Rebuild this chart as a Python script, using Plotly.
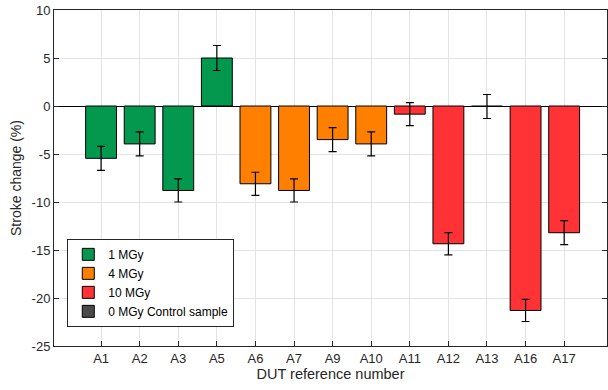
import plotly.graph_objects as go

categories = ["A1", "A2", "A3", "A5", "A6", "A7", "A9", "A10", "A11", "A12", "A13", "A16", "A17"]
groups = ["1 MGy", "1 MGy", "1 MGy", "1 MGy", "4 MGy", "4 MGy", "4 MGy", "4 MGy",
          "10 MGy", "10 MGy", "0 MGy Control sample", "10 MGy", "10 MGy"]
values = [-5.45, -3.95, -8.8, 5.0, -8.1, -8.8, -3.5, -3.95, -0.85, -14.35, -0.05, -21.3, -13.2]
errors = [1.25, 1.25, 1.2, 1.3, 1.2, 1.2, 1.25, 1.25, 1.2, 1.15, 1.25, 1.15, 1.25]
legend_order = ["1 MGy", "4 MGy", "10 MGy", "0 MGy Control sample"]
colors = {"1 MGy": "#03984e", "4 MGy": "#ff8000", "10 MGy": "#ff3336",
          "0 MGy Control sample": "#4a4a4a"}
ytick_vals = [10, 5, 0, -5, -10, -15, -20, -25]
ytick_text = ["10", "5", "0", "-5", "-10", "-15", "-20", "-25"]

fig = go.Figure()
for g in legend_order:
    xs = [c for c, gg in zip(categories, groups) if gg == g]
    ys = [v for v, gg in zip(values, groups) if gg == g]
    es = [e for e, gg in zip(errors, groups) if gg == g]
    fig.add_trace(go.Bar(
        x=xs, y=ys, name=g, width=0.8,
        marker=dict(color=colors[g], line=dict(color="black", width=1)),
        error_y=dict(type="data", array=es, visible=True, color="black",
                     thickness=1.2, width=4),
    ))

fig.update_layout(
    width=608, height=390,
    margin=dict(l=54, r=1, t=10, b=44),
    plot_bgcolor="white", paper_bgcolor="white",
    barmode="overlay",
    font=dict(family="Liberation Sans, Arial, sans-serif", size=12, color="#262626"),
    showlegend=True,
    legend=dict(x=0.024, y=0.057, xanchor="left", yanchor="bottom",
                bgcolor="white", bordercolor="#262626", borderwidth=1,
                font=dict(size=12, color="black"), tracegroupgap=0,
                traceorder="normal"),
)
fig.update_xaxes(
    type="category", categoryorder="array", categoryarray=categories,
    range=[-1.22, 13.11],
    showgrid=True, gridcolor="#e3e3e3", gridwidth=1,
    showline=True, linecolor="#262626", linewidth=1, mirror=True,
    ticks="inside", ticklen=5, tickcolor="#262626",
    tickfont=dict(size=13, color="#262626"),
    title=dict(text="DUT reference number", font=dict(size=14.5, color="#262626"), standoff=4),
    zeroline=False,
)
fig.update_yaxes(
    range=[-25, 10], tickvals=ytick_vals, ticktext=ytick_text,
    showgrid=True, gridcolor="#e3e3e3", gridwidth=1,
    showline=True, linecolor="#262626", linewidth=1, mirror="ticks",
    ticks="inside", ticklen=5, tickcolor="#262626",
    tickfont=dict(size=13, color="#262626"),
    title=dict(text="Stroke change (%)", font=dict(size=14, color="#262626"), standoff=6),
    zeroline=True, zerolinecolor="black", zerolinewidth=1,
)

fig.write_html("out.html")
